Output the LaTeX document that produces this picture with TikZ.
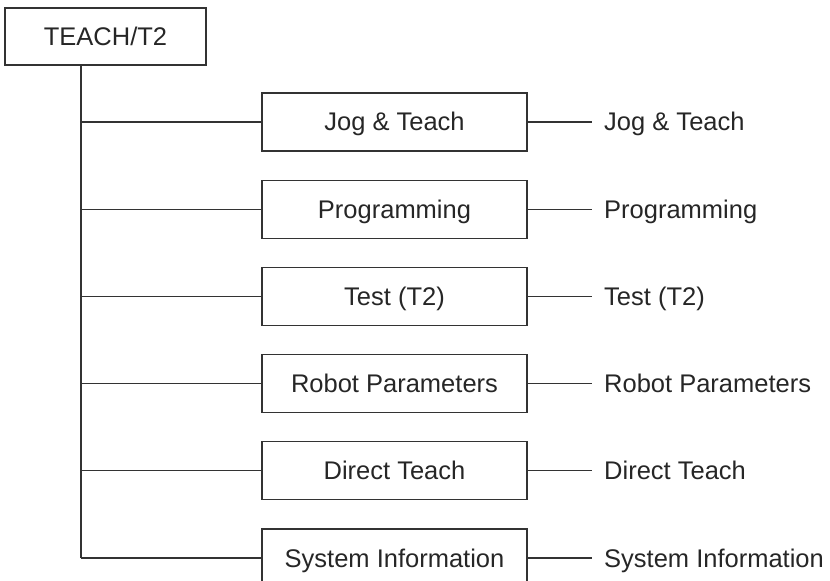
\documentclass[tikz,border=0pt]{standalone}
\usepackage{fontspec}
\setmainfont{Liberation Sans}
\usetikzlibrary{positioning}

\begin{document}
\begin{tikzpicture}[x=1bp, y=-1bp, line width=1.2bp,
    every node/.style={font=\fontsize{25.5bp}{30bp}\selectfont, text=black!85,
      text height=18bp, text depth=0pt},
    menubox/.style={draw=black!80, rectangle, inner sep=0pt,
      minimum width=265bp, minimum height=58bp},
    outlbl/.style={inner sep=0pt, anchor=west},
    node distance=28bp]
  \useasboundingbox (0,0) rectangle (830,581);
  % top level
  \node[draw=black!80, inner sep=0pt, minimum width=201bp, minimum height=57bp] (root) at (105.5,36.5) {TEACH/T2};
  \coordinate (trunk) at (81,65);
  % sub menus
  \node[menubox] (jog) at (394.5,122) {Jog \& Teach};
  \node[menubox, below=of jog] (prog) {Programming};
  \node[menubox, below=of prog] (test) {Test (T2)};
  \node[menubox, below=of test] (robot) {Robot Parameters};
  \node[menubox, below=of robot] (direct) {Direct Teach};
  \node[menubox, below=of direct] (sysinfo) {System Information};
  % screens on the right
  \node[outlbl, right=76bp of jog] (jogout) {Jog \& Teach};
  \node[outlbl, right=76bp of prog] (progout) {Programming};
  \node[outlbl, right=76bp of test] (testout) {Test (T2)};
  \node[outlbl, right=76bp of robot] (robotout) {Robot Parameters};
  \node[outlbl, right=76bp of direct] (directout) {Direct Teach};
  \node[outlbl, right=76bp of sysinfo] (sysinfoout) {System Information};
  % tree lines
  \draw[black!80] (trunk) -- (trunk |- sysinfo.west);
  \foreach \m in {jog, prog, test, robot, direct, sysinfo} {
    \draw[black!80] (trunk |- \m.west) -- (\m.west);
    \draw[black!80] (\m.east) -- ([xshift=-12bp]\m out.west);
  }
\end{tikzpicture}
\end{document}
